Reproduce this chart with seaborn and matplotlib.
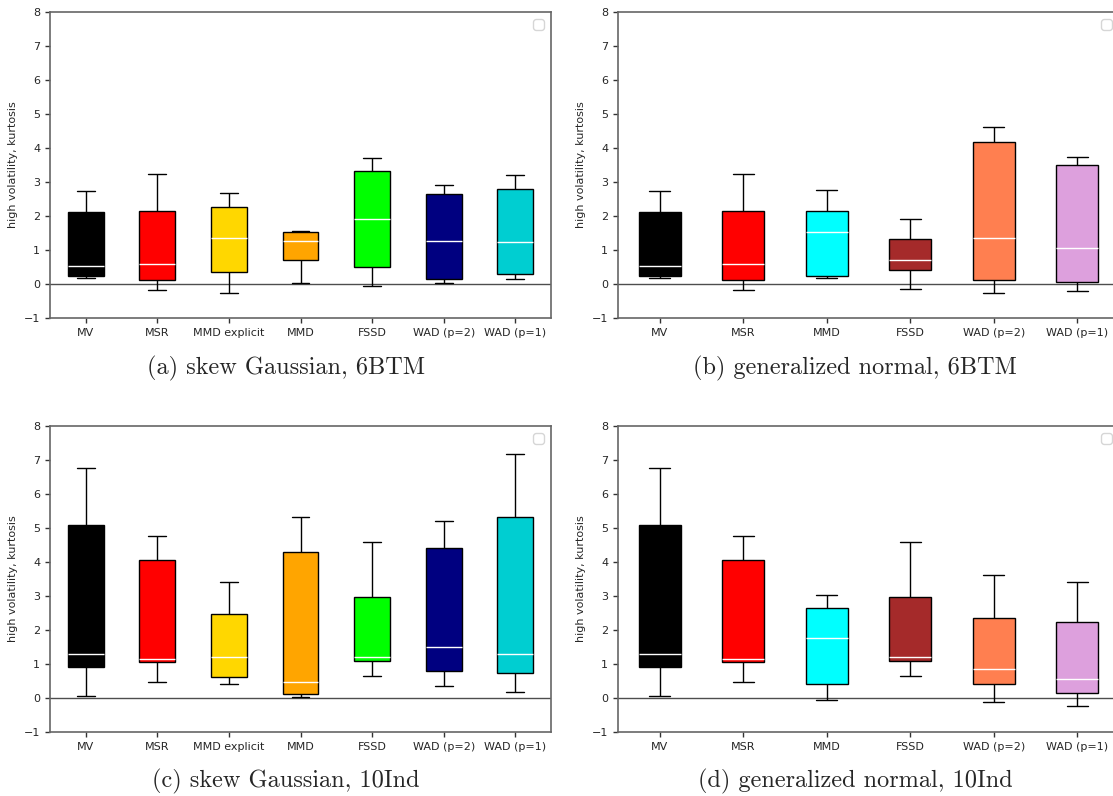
"""Four box plots of high-volatility kurtosis per method, saved to out.png."""

import numpy as np
import pandas as pd
import matplotlib
matplotlib.use('Agg')
import matplotlib.pyplot as plt
import seaborn as sns

W, H = 1113, 796

METHODS_7 = ['MV', 'MSR', 'MMD explicit', 'MMD', 'FSSD', 'WAD (p=2)', 'WAD (p=1)']
METHODS_6 = ['MV', 'MSR', 'MMD', 'FSSD', 'WAD (p=2)', 'WAD (p=1)']
COLORS_7 = ['black', 'red', 'gold', 'orange', 'lime', 'navy', 'darkturquoise']
COLORS_6 = ['black', 'red', 'cyan', 'brown', 'coral', 'plum']

# five-number summaries: whisker low, q1, median, q3, whisker high
skew_6btm = [
    [0.17, 0.25, 0.54, 2.11, 2.74],
    [-0.18, 0.12, 0.60, 2.16, 3.25],
    [-0.26, 0.34, 1.35, 2.27, 2.67],
    [0.03, 0.70, 1.26, 1.53, 1.55],
    [-0.06, 0.51, 1.91, 3.33, 3.72],
    [0.04, 0.16, 1.26, 2.64, 2.90],
    [0.16, 0.30, 1.23, 2.78, 3.20],
]
gnorm_6btm = [
    [0.17, 0.25, 0.54, 2.11, 2.74],
    [-0.18, 0.12, 0.60, 2.16, 3.25],
    [0.19, 0.23, 1.52, 2.15, 2.76],
    [-0.16, 0.42, 0.72, 1.31, 1.91],
    [-0.26, 0.12, 1.34, 4.19, 4.62],
    [-0.21, 0.05, 1.05, 3.49, 3.75],
]
skew_10ind = [
    [0.06, 0.90, 1.29, 5.10, 6.77],
    [0.46, 1.05, 1.15, 4.07, 4.77],
    [0.42, 0.61, 1.20, 2.46, 3.40],
    [0.02, 0.12, 0.48, 4.30, 5.33],
    [0.66, 1.10, 1.20, 2.97, 4.59],
    [0.35, 0.79, 1.49, 4.42, 5.21],
    [0.17, 0.75, 1.28, 5.31, 7.19],
]
gnorm_10ind = [
    [0.06, 0.90, 1.29, 5.10, 6.77],
    [0.46, 1.05, 1.15, 4.07, 4.77],
    [-0.07, 0.40, 1.77, 2.66, 3.03],
    [0.66, 1.10, 1.20, 2.97, 4.59],
    [-0.12, 0.42, 0.85, 2.35, 3.62],
    [-0.24, 0.14, 0.55, 2.25, 3.41],
]

CAPTIONS = [
    '(a) skew Gaussian, 6BTM',
    '(b) generalized normal, 6BTM',
    '(c) skew Gaussian, 10Ind',
    '(d) generalized normal, 10Ind',
]


def to_frame(methods, summaries):
    rows = []
    for m, vals in zip(methods, summaries):
        for v in vals:
            rows.append({'method': m, 'value': v})
    return pd.DataFrame(rows)


def draw_panel(ax, methods, colors, summaries):
    df = to_frame(methods, summaries)
    # with five points per box the quartiles are exactly q1/median/q3,
    # and whis=inf puts the whiskers on the extremes
    sns.boxplot(data=df, x='method', y='value', hue='method',
                order=methods, hue_order=methods, palette=colors,
                legend=False, saturation=1, width=0.5, whis=np.inf,
                linecolor='black', linewidth=1,
                medianprops={'color': 'white', 'linewidth': 1},
                ax=ax)
    ax.axhline(0, color='0.3', lw=1, zorder=0.5)
    ax.set_ylim(-1, 8)
    ax.set_yticks(range(-1, 9))
    ax.set_xlim(-0.5, len(methods) - 0.5)
    ax.set_xlabel('')
    ax.set_ylabel('high volatility, kurtosis', fontsize=8)
    ax.tick_params(labelsize=8, length=3.5, width=1, color='0.2')
    for s in ax.spines.values():
        s.set_visible(True)
        s.set_color('0.4')
        s.set_linewidth(1.2)
    ax.legend(handles=[], loc='upper right')


sns.set_style('ticks')
plt.rcParams['font.family'] = ['DejaVu Sans']

fig = plt.figure(figsize=(W / 100, H / 100), dpi=100)

# axes boxes in pixels (left, top, right, bottom); right column runs past the edge
boxes = [(50, 12, 551, 318), (618, 12, 1119, 318),
         (50, 426, 551, 732), (618, 426, 1119, 732)]
panels = [(METHODS_7, COLORS_7, skew_6btm), (METHODS_6, COLORS_6, gnorm_6btm),
          (METHODS_7, COLORS_7, skew_10ind), (METHODS_6, COLORS_6, gnorm_10ind)]
cap_pos = [(286, 368), (855, 368), (286, 781), (855, 781)]

for (l, t, r, b), (meths, cols, summ), cap, (cx, cy) in zip(boxes, panels, CAPTIONS, cap_pos):
    ax = fig.add_axes([l / W, 1 - b / H, (r - l) / W, (b - t) / H])
    draw_panel(ax, meths, cols, summ)
    fig.text(cx / W, 1 - cy / H, cap, ha='center', va='center',
             fontsize=17.5, family='cmr10')

fig.savefig('out.png', dpi=100)
